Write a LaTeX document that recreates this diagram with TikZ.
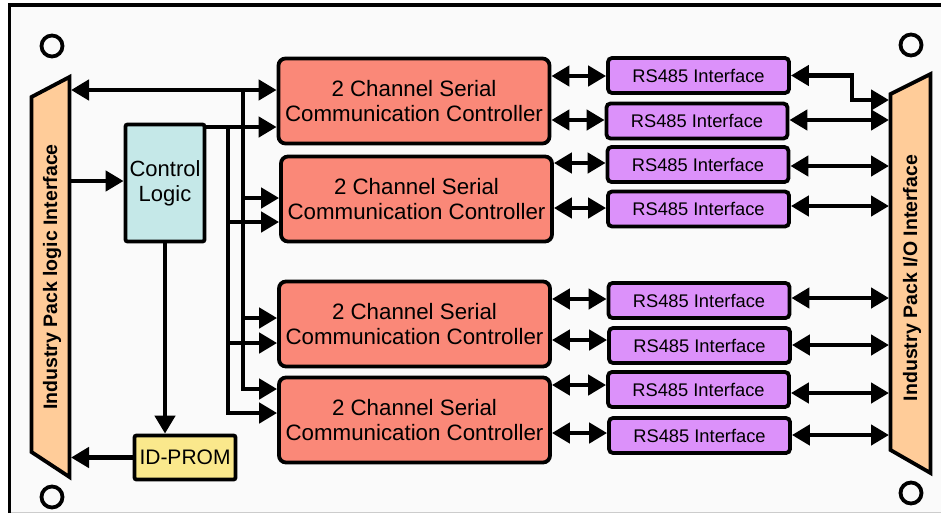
\documentclass[tikz,border=0pt]{standalone}
\usepackage{fontspec}
\setmainfont{Liberation Sans}
\usetikzlibrary{arrows.meta,calc}
\definecolor{bgfill}{HTML}{FAFAFA}
\definecolor{trapfill}{HTML}{FFCC99}
\definecolor{clfill}{HTML}{C5E8E8}
\definecolor{idfill}{HTML}{FAE88C}
\definecolor{sccfill}{HTML}{FA8878}
\definecolor{rsfill}{HTML}{DC91FA}
\begin{document}
\begin{tikzpicture}[x=1pt,y=-1pt,line join=miter,
  box/.style={draw=black,line width=3.8pt,inner sep=0pt,align=center},
  scc/.style={box,fill=sccfill,rounded corners=7pt,minimum width=271pt,minimum height=85pt,font=\fontsize{22.3}{25}\selectfont},
  rsbox/.style={box,fill=rsfill,rounded corners=4pt,minimum width=181pt,minimum height=35pt,font=\fontsize{18.3}{20}\selectfont},
  trap/.style={draw=black,line width=3.8pt,fill=trapfill},
  traplabel/.style={rotate=90,anchor=base,inner sep=0pt,font=\bfseries\fontsize{19.5}{22}\selectfont},
  wire/.style={line width=4.6pt},
  arr/.style={wire,-{Triangle[length=18pt,width=20pt]}},
  dbl/.style={wire,{Triangle[length=18pt,width=20pt]}-{Triangle[length=18pt,width=20pt]}},
  hole/.style={draw=black,line width=3.8pt,circle,minimum size=21pt,inner sep=0pt}
]
\useasboundingbox (0,0) rectangle (941,514);
\fill[white] (0,0) rectangle (941,514);
\fill[bgfill] (9.5,5) rectangle (941,512);
\draw[black!20,line width=1pt] (9.5,512.5) -- (941,512.5);
\draw[line width=3.5pt] (9.5,513) -- (9.5,5) -- (945,5);

% mounting holes
\node[hole] (h1) at (52,46) {};
\node[hole] (h2) at (52,497) {};
\node[hole] (h3) at (911,45) {};
\node[hole] (h4) at (911,493) {};

% left trapezoid
\draw[trap] (31.5,97) -- (69.5,77) -- (69.5,477) -- (31.5,452) -- cycle;
\node[traplabel] (lifl) at (57,277) {Industry Pack logic Interface};
\coordinate (lifT) at (71,90);
\coordinate (lifC) at (71,181);
\coordinate (lifI) at (71,457.5);

% right trapezoid
\draw[trap] (890.5,94) -- (930.5,74) -- (930.5,473) -- (890.5,450) -- cycle;
\node[traplabel] (rifl) at (917,278) {Industry Pack I/O Interface};
\coordinate (rifL) at (889,0);
\coordinate (rifA) at (889,100);
\coordinate (rEl) at (852,100);

% blocks
\node[box,fill=clfill,rounded corners=2pt,minimum width=79pt,minimum height=117pt,font=\fontsize{22}{25}\selectfont] (cl) at (165,183) {Control\\Logic};
\node[box,fill=idfill,rounded corners=2pt,minimum width=101pt,minimum height=44pt,font=\fontsize{21}{24}\selectfont] (idp) at (185,457.5) {ID-PROM};

\node[scc] (scc1) at (414,101) {2 Channel Serial\\Communication Controller};
\node[scc] (scc2) at (416.5,199) {2 Channel Serial\\Communication Controller};
\node[scc] (scc3) at (414.5,324) {2 Channel Serial\\Communication Controller};
\node[scc] (scc4) at (414.5,420) {2 Channel Serial\\Communication Controller};

\node[rsbox] (rs1) at (698.5,75.5) {RS485 Interface};
\node[rsbox] (rs2) at (697,121) {RS485 Interface};
\node[rsbox] (rs3) at (698,164.5) {RS485 Interface};
\node[rsbox] (rs4) at (698.5,209) {RS485 Interface};
\node[rsbox] (rs5) at (699,300.5) {RS485 Interface};
\node[rsbox] (rs6) at (699.5,345.5) {RS485 Interface};
\node[rsbox] (rs7) at (698.5,389.5) {RS485 Interface};
\node[rsbox] (rs8) at (699.5,435.5) {RS485 Interface};

% left side connectors
\draw[arr] (lifC) -- (lifC -| cl.west);
\draw[arr] (cl.south) -- (cl.south |- idp.north);
\draw[arr] (idp.west) -- (lifI);
\draw[dbl] (lifT) -- (lifT -| scc1.west);

% bus lines
\coordinate (bA) at (243,90);
\coordinate (bAe) at (243,389);
\coordinate (bB) at (228,127);
\coordinate (bBe) at (228,413);
\draw[arr] (bB -| cl.east) -- (bB -| scc1.west);
\draw[arr] (bA) -- (bAe) -- (bAe -| scc4.west);
\draw[arr] (bB) -- (bBe) -- (bBe -| scc4.west);
\coordinate (bA2) at (243,198);
\coordinate (bB2) at (228,222);
\coordinate (bA3) at (243,318);
\coordinate (bB3) at (228,343);
\draw[arr] (bA2) -- (bA2 -| scc2.west);
\draw[arr] (bB2) -- (bB2 -| scc2.west);
\draw[arr] (bA3) -- (bA3 -| scc3.west);
\draw[arr] (bB3) -- (bB3 -| scc3.west);

% SCC <-> RS485
\foreach \i/\j/\dl in {1/1/0.5,2/1/-1,3/2/-1.5,4/2/-1,5/3/-1.5,6/3/-5.5,7/4/-4.5,8/4/-2.5}{
  \path ($(rs\i.west)+(0,\dl)$) coordinate (lw\i);
  \draw[dbl] (lw\i -| scc\j.east) -- (lw\i);
}

% RS485 <-> right interface
\draw[dbl] (rs1.east) -| (rEl) -- (rifA);
\foreach \i/\dr in {2/-1,3/1.5,4/-3,5/-2.5,6/-0.5,7/3.5,8/-0.5}{
  \path ($(rs\i.east)+(0,\dr)$) coordinate (rw\i);
  \draw[dbl] (rw\i) -- (rw\i -| rifL);
}
\end{tikzpicture}
\end{document}
